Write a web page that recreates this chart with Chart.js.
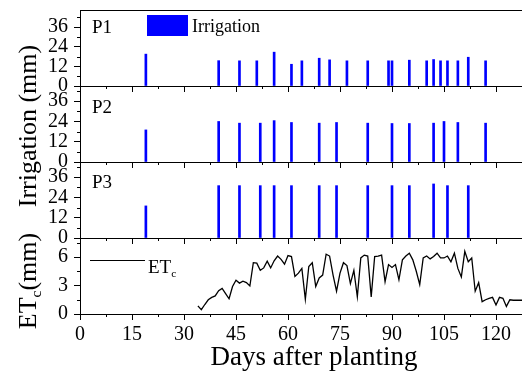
<!DOCTYPE html>
<html>
<head>
<meta charset="utf-8">
<script src="https://cdn.jsdelivr.net/npm/chart.js@4.4.1/dist/chart.umd.min.js"></script>
<style>
  html, body { margin: 0; padding: 0; background: #fff; }
  #wrap { position: relative; width: 522px; height: 376px; overflow: hidden;
          font-family: "Liberation Serif", "Times New Roman", serif; color: #000; }
  #wrap canvas { position: absolute; left: 0; }
  .lbl { position: absolute; white-space: nowrap; line-height: 1; }
  .ytitle { position: absolute; white-space: nowrap; line-height: 1; font-size: 26px;
            transform: translate(-50%, -50%) rotate(-90deg); }
  sub { font-size: 0.6em; vertical-align: -0.35em; line-height: 0; }
</style>
</head>
<body>
<!-- the figure is cropped on the right: panels run past the 522px frame -->
<div id="wrap">
  <canvas id="p1" width="548" height="92" style="top:0px"></canvas>
  <canvas id="p2" width="548" height="92" style="top:76px"></canvas>
  <canvas id="p3" width="548" height="92" style="top:152px"></canvas>
  <canvas id="et" width="548" height="148" style="top:228px"></canvas>

  <div class="ytitle" style="left:28px; top:126px;">Irrigation (mm)</div>
  <div class="ytitle" style="left:28px; top:281px;">ET<sub>c</sub>(mm)</div>

  <div class="lbl" style="left:92px; top:17px; font-size:19px;">P1</div>
  <div class="lbl" style="left:92px; top:97px; font-size:19px;">P2</div>
  <div class="lbl" style="left:92px; top:172px; font-size:19px;">P3</div>

  <div style="position:absolute; left:147px; top:15px; width:41px; height:21px; background:#0000ff;"></div>
  <div class="lbl" style="left:192px; top:17px; font-size:18px;">Irrigation</div>

  <div style="position:absolute; left:90px; top:260px; width:55px; height:1px; background:#000;"></div>
  <div class="lbl" style="left:148px; top:257px; font-size:19px;">ET<sub>c</sub></div>
</div>
<script>
"use strict";

// irrigation events: day after planting -> amount (mm)
const p1Days = [19, 40, 46, 51, 56, 61, 64, 69, 72, 77, 83, 89, 90, 95, 100, 102, 104, 106, 109, 112, 117];
const p1Amounts = [19.5, 15.5, 15.4, 15.4, 20.7, 13.3, 15.4, 17, 16, 15.4, 15.4, 15.4, 15.4, 15.8, 15.4, 16.2, 15.4, 15.4, 15.4, 17.6, 15.4];

const p2Days = [19, 40, 46, 52, 56, 61, 69, 74, 83, 90, 95, 102, 105, 109, 117];
const p2Amounts = [19, 24, 23, 23, 24.5, 23.4, 23, 23.4, 23, 22.8, 22.8, 23, 24, 23.4, 23];

const p3Days = [19, 40, 46, 52, 56, 61, 69, 74, 83, 90, 95, 102, 106, 112];
const p3Amounts = [19, 31, 31, 31, 31, 31, 31, 31, 31, 31, 31, 32, 31, 31];

// daily crop evapotranspiration (mm)
const etDays = [34, 35, 36, 37, 38, 39, 40, 41, 42, 43, 44, 45, 46, 47, 48, 49, 50, 51, 52, 53,
  54, 55, 56, 57, 58, 59, 60, 61, 62, 63, 64, 65, 66, 67, 68, 69, 70, 71, 72, 73,
  74, 75, 76, 77, 78, 79, 80, 81, 82, 83, 84, 85, 86, 87, 88, 89, 90, 91, 92, 93,
  94, 95, 96, 97, 98, 99, 100, 101, 102, 103, 104, 105, 106, 107, 108, 109, 110, 111, 112, 113,
  114, 115, 116, 117, 118, 119, 120, 121, 122, 123, 124, 125, 126, 127, 128];
const etValues = [0.85, 0.45, 1.0, 1.5, 1.75, 1.9, 2.45, 2.7, 2.15, 1.6, 2.9, 3.55, 3.25, 3.45, 3.3, 2.95, 5.4, 5.35, 4.6, 4.85,
  5.55, 4.85, 5.6, 6.1, 5.75, 5.25, 6.15, 6.05, 3.95, 4.3, 4.8, 1.55, 5.0, 5.4, 2.9, 3.8, 4.1, 6.3, 6.1, 4.1,
  2.4, 4.3, 5.4, 5.1, 3.2, 4.6, 1.8, 5.9, 6.2, 6.1, 1.8, 6.05, 6.1, 6.2, 3.4, 5.2, 4.9, 5.2, 3.6, 5.7,
  6.1, 6.4, 5.7, 4.5, 3.1, 5.9, 6.1, 5.8, 6.05, 6.4, 5.9, 5.9, 6.1, 5.5, 6.4, 4.8, 3.9, 6.6, 5.5, 5.9,
  2.4, 3.3, 1.3, 1.5, 1.65, 1.75, 0.95, 1.75, 1.65, 0.8, 1.5, 1.45, 1.45, 1.45, 1.45];

Chart.defaults.font.family = '"Liberation Serif", "Times New Roman", serif';
Chart.defaults.font.size = 20;
Chart.defaults.color = "#000";
Chart.defaults.animation = false;

// top + right edge of the box
const framePlugin = {
  id: "frame",
  afterDraw(chart) {
    const { ctx, chartArea: a } = chart;
    const top = Math.round(a.top) + 0.5;
    const right = Math.round(a.right) - 0.5;
    ctx.save();
    ctx.strokeStyle = "#000";
    ctx.lineWidth = 1;
    ctx.beginPath();
    ctx.moveTo(a.left, top);
    ctx.lineTo(right, top);
    ctx.lineTo(right, a.bottom);
    ctx.stroke();
    ctx.restore();
  },
};

// short ticks halfway between the major ones
const minorTicks = {
  id: "minorTicks",
  afterDraw(chart) {
    const { ctx } = chart;
    ctx.save();
    ctx.strokeStyle = "#000";
    ctx.lineWidth = 1;
    ctx.beginPath();
    for (const s of Object.values(chart.scales)) {
      if (s.ticks.length < 2) continue;
      const step = s.ticks[1].value - s.ticks[0].value;
      for (const t of s.ticks) {
        const v = t.value + step / 2;
        if (v >= s.max) continue;
        const p = Math.round(s.getPixelForValue(v)) + 0.5;
        if (s.isHorizontal()) {
          ctx.moveTo(p, s.top);
          ctx.lineTo(p, s.top + 3);
        } else {
          ctx.moveTo(s.right, p);
          ctx.lineTo(s.right - 3, p);
        }
      }
    }
    ctx.stroke();
    ctx.restore();
  },
};

// fixed axis boxes so the four panels line up exactly
function xScale(bottom) {
  return {
    type: "linear",
    min: 0,
    max: 135,
    offset: false,
    ticks: { stepSize: 15, display: bottom, autoSkip: false, maxRotation: 0, padding: 3, includeBounds: false },
    grid: { drawOnChartArea: false, tickLength: 6, color: "#000", offset: false },
    border: { color: "#000" },
    title: bottom
      ? { display: true, text: "Days after planting", font: { size: 27 }, padding: { top: 0, bottom: 2 } }
      : { display: false },
    afterFit(s) {
      s.height = bottom ? 62 : 6;
      s.paddingLeft = 0;
      s.paddingRight = 0;
    },
  };
}

function yScale(max, step) {
  return {
    type: "linear",
    min: 0,
    max,
    ticks: { stepSize: step, includeBounds: false, autoSkip: false, padding: 6 },
    grid: { drawOnChartArea: false, tickLength: 6, color: "#000" },
    border: { color: "#000" },
    afterFit(s) {
      s.width = 80;
      s.paddingTop = 0;
      s.paddingBottom = 0;
    },
  };
}

const baseOptions = {
  responsive: false,
  layout: { padding: { top: 10, right: 0, left: 0, bottom: 0 } },
  plugins: { legend: { display: false }, tooltip: { enabled: false } },
};

function irrigationPanel(id, days, amounts, yMax) {
  return new Chart(document.getElementById(id), {
    type: "bar",
    data: {
      datasets: [{
        data: days.map((d, i) => ({ x: d, y: amounts[i] })),
        backgroundColor: "#0000ff",
        barThickness: 2,
      }],
    },
    options: { ...baseOptions, scales: { x: xScale(false), y: yScale(yMax, 12) } },
    plugins: [framePlugin, minorTicks],
  });
}

irrigationPanel("p1", p1Days, p1Amounts, 46.5);
irrigationPanel("p2", p2Days, p2Amounts, 45);
irrigationPanel("p3", p3Days, p3Amounts, 45);

new Chart(document.getElementById("et"), {
  type: "line",
  data: {
    datasets: [{
      data: etDays.map((d, i) => ({ x: d, y: etValues[i] })),
      borderColor: "#000",
      borderWidth: 1.3,
      pointRadius: 0,
      tension: 0,
      fill: false,
    }],
  },
  options: { ...baseOptions, scales: { x: xScale(true), y: yScale(8, 3) } },
  plugins: [framePlugin, minorTicks],
});
</script>
</body>
</html>
